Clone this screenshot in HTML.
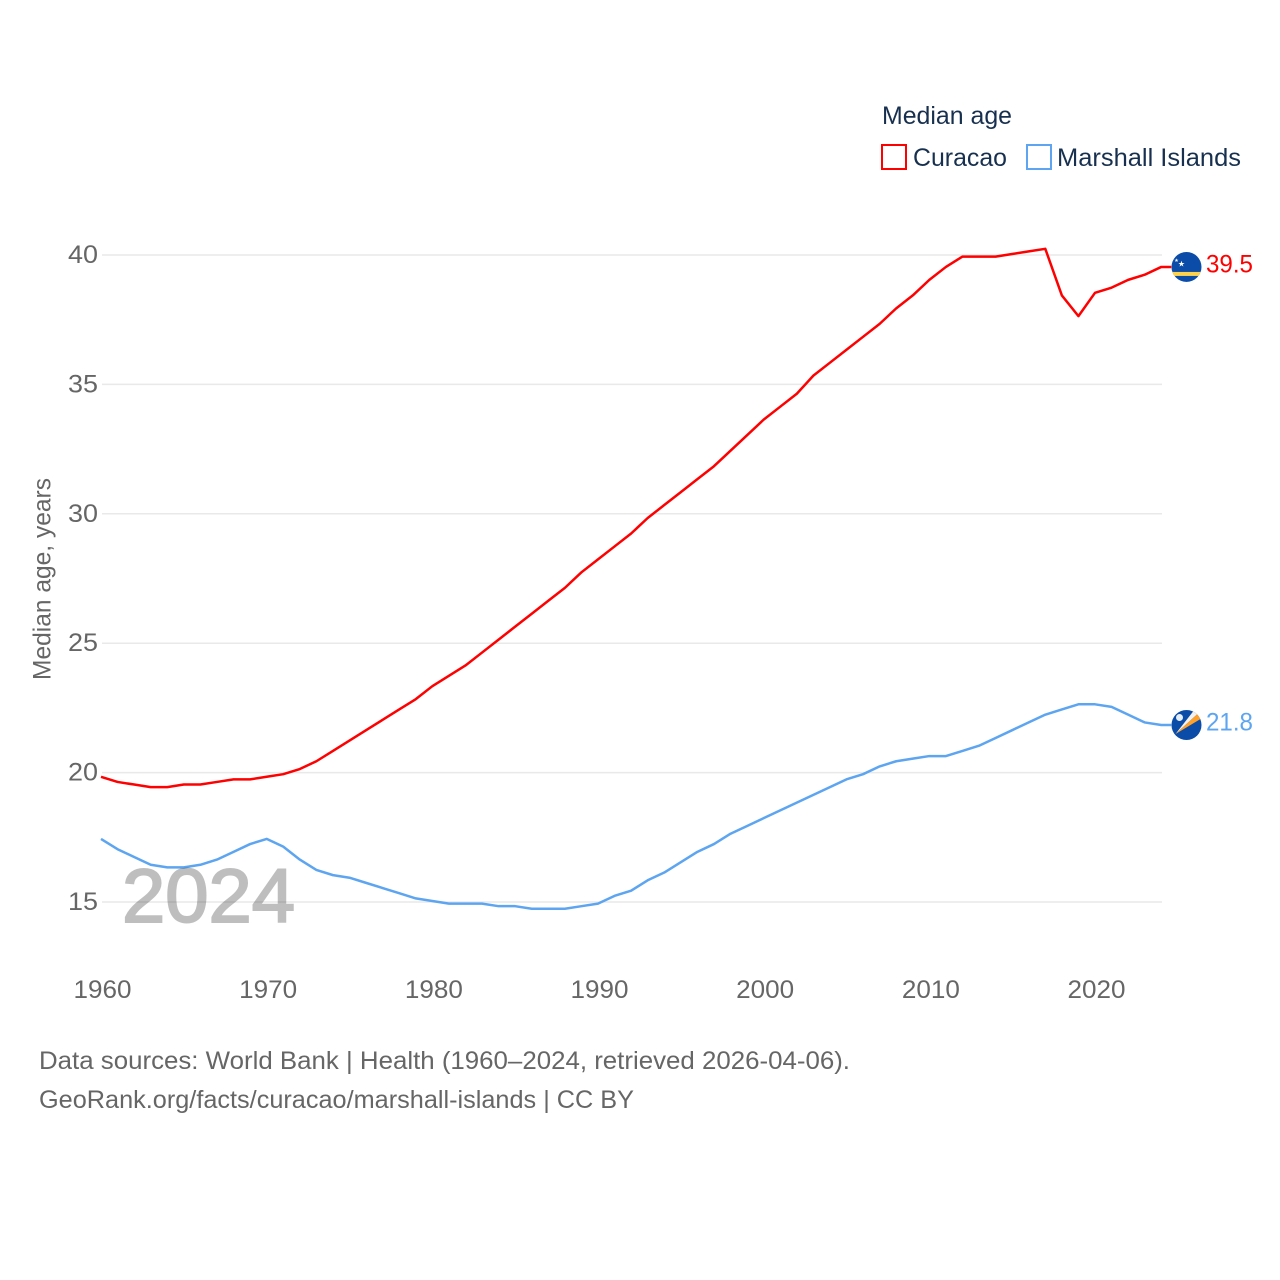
<!DOCTYPE html>
<html lang="en">
<head>
<meta charset="utf-8">
<title>Median age: Curacao and Marshall Islands</title>
<style>
html,body{margin:0;padding:0;background:#fff;}
svg{display:block;font-family:"Liberation Sans",sans-serif;}
</style>
</head>
<body>
<svg id="chart" width="1280" height="1280" viewBox="0 0 1280 1280" xmlns="http://www.w3.org/2000/svg">
  <rect width="1280" height="1280" fill="#fff"/>
  <g id="grid"></g>
  <g id="yticks"></g>
  <g id="xticks"></g>
  <text transform="translate(50.5,579) rotate(-90)" text-anchor="middle" font-size="25" fill="#666" textLength="202" lengthAdjust="spacingAndGlyphs">Median age, years</text>
  <g id="series" transform="translate(-1,-1)"></g>
  <text x="122" y="922" font-size="76" fill="#000" stroke="#000" stroke-width="2" opacity="0.25" textLength="173" lengthAdjust="spacingAndGlyphs">2024</text>

  <g>
    <text x="882" y="124" font-size="25" fill="#18304f" textLength="130" lengthAdjust="spacingAndGlyphs">Median age</text>
    <g>
      <rect x="882" y="145" width="24" height="24" fill="#fff" stroke="#ff0000" stroke-width="2"/>
      <text x="913" y="166" font-size="25" fill="#18304f" textLength="94" lengthAdjust="spacingAndGlyphs">Curacao</text>
    </g>
    <g>
      <rect x="1027" y="145" width="24" height="24" fill="#fff" stroke="#5da5f0" stroke-width="2"/>
      <text x="1057" y="166" font-size="25" fill="#18304f" textLength="184" lengthAdjust="spacingAndGlyphs">Marshall Islands</text>
    </g>
  </g>

  <defs>
    <clipPath id="flagClip"><circle cx="0" cy="0" r="15"/></clipPath>
  </defs>

  <g id="flag-curacao">
    <g clip-path="url(#flagClip)">
      <rect x="-15" y="-15" width="30" height="30" fill="#0b4ca8"/>
      <rect x="-15" y="5" width="30" height="4" fill="#fdd34e"/>
      <text x="-5" y="-0.5" font-size="8" fill="#fff" text-anchor="middle">★</text>
      <text x="-10" y="-5" font-size="5" fill="#fff" text-anchor="middle">★</text>
    </g>
  </g>
  <g id="flag-marshall">
    <g clip-path="url(#flagClip)">
      <rect x="-15" y="-15" width="30" height="30" fill="#0b4ca8"/>
      <polygon points="-11,9 7,-14 11,-11" fill="#f2f2f2"/>
      <polygon points="-11,9 11,-11 14,-6" fill="#ffa028"/>
      <circle cx="-7" cy="-7.5" r="3.5" fill="#e6eef8"/>
    </g>
  </g>

  <g id="endlabels"></g>

  <text x="39" y="1069" font-size="25" fill="#666" textLength="811" lengthAdjust="spacingAndGlyphs">Data sources: World Bank | Health (1960–2024, retrieved 2026-04-06).</text>
  <text x="39" y="1108" font-size="25" fill="#666" textLength="595" lengthAdjust="spacingAndGlyphs">GeoRank.org/facts/curacao/marshall-islands | CC BY</text>
</svg>
<script>
const startYear = 1960;
const curacaoValues = [19.8,19.6,19.5,19.4,19.4,19.5,19.5,19.6,19.7,19.7,19.8,19.9,20.1,20.4,20.8,21.2,21.6,22.0,22.4,22.8,23.3,23.7,24.1,24.6,25.1,25.6,26.1,26.6,27.1,27.7,28.2,28.7,29.2,29.8,30.3,30.8,31.3,31.8,32.4,33.0,33.6,34.1,34.6,35.3,35.8,36.3,36.8,37.3,37.9,38.4,39.0,39.5,39.9,39.9,39.9,40.0,40.1,40.2,38.4,37.6,38.5,38.7,39.0,39.2,39.5];
const marshallValues = [17.4,17.0,16.7,16.4,16.3,16.3,16.4,16.6,16.9,17.2,17.4,17.1,16.6,16.2,16.0,15.9,15.7,15.5,15.3,15.1,15.0,14.9,14.9,14.9,14.8,14.8,14.7,14.7,14.7,14.8,14.9,15.2,15.4,15.8,16.1,16.5,16.9,17.2,17.6,17.9,18.2,18.5,18.8,19.1,19.4,19.7,19.9,20.2,20.4,20.5,20.6,20.6,20.8,21.0,21.3,21.6,21.9,22.2,22.4,22.6,22.6,22.5,22.2,21.9,21.8];
const yTickValues = [15,20,25,30,35,40];
const xTickValues = [1960,1970,1980,1990,2000,2010,2020];

const NS = 'http://www.w3.org/2000/svg';
function xScale(year){ return 102 + (year - 1960) * (1096 - 102) / 60; }
function yScale(v){ return 902 - (v - 15) * (902 - 255) / 25; }
function make(tag, attrs, parent){
  const el = document.createElementNS(NS, tag);
  for (const k in attrs) el.setAttribute(k, attrs[k]);
  parent.appendChild(el);
  return el;
}
const gridG = document.getElementById('grid');
const yG = document.getElementById('yticks');
const xG = document.getElementById('xticks');
const seriesG = document.getElementById('series');
const endG = document.getElementById('endlabels');

yTickValues.forEach(function(t){
  const line = make('line', {x1:102, x2:1162, y1:yScale(t), y2:yScale(t), stroke:'#e9e9e9', 'stroke-width':1.5}, gridG);
  
  
  const label = make('text', {x:98, y:yScale(t) + 8, 'text-anchor':'end', 'font-size':25, fill:'#666', textLength:30, lengthAdjust:'spacingAndGlyphs'}, yG);
  
  
  label.textContent = t;
});

xTickValues.forEach(function(t){
  const label = make('text', {x:xScale(t) + 0.5, y:998, 'text-anchor':'middle', 'font-size':25, fill:'#666', textLength:58, lengthAdjust:'spacingAndGlyphs'}, xG);
  
  
  label.textContent = t;
});

function drawSeries(values, color, name, flagId){
  const pts = values.map(function(v, i){ return xScale(startYear + i).toFixed(2) + ',' + yScale(v).toFixed(2); });
  const lastIndex = values.length - 1;
  const last = values[lastIndex];
  const lastX = xScale(startYear + lastIndex);
  const lastY = yScale(last);
  pts.push((lastX + 10).toFixed(2) + ',' + lastY.toFixed(2));
  const line = make('polyline', {points:pts.join(' '), fill:'none', stroke:color, 'stroke-width':2.5, 'stroke-linejoin':'round'}, seriesG);
  
  
  document.getElementById(flagId).setAttribute('transform', 'translate(1186.5,' + (lastY - 1).toFixed(2) + ')');
  const label = make('text', {x:1206, y:(lastY + 4.5).toFixed(2), 'font-size':25, fill:color, textLength:47, lengthAdjust:'spacingAndGlyphs'}, endG);
  
  
  label.textContent = last.toFixed(1);
}
drawSeries(curacaoValues, '#ff0000', 'curacao', 'flag-curacao');
drawSeries(marshallValues, '#5da5f0', 'marshall-islands', 'flag-marshall');
</script>
</body>
</html>
